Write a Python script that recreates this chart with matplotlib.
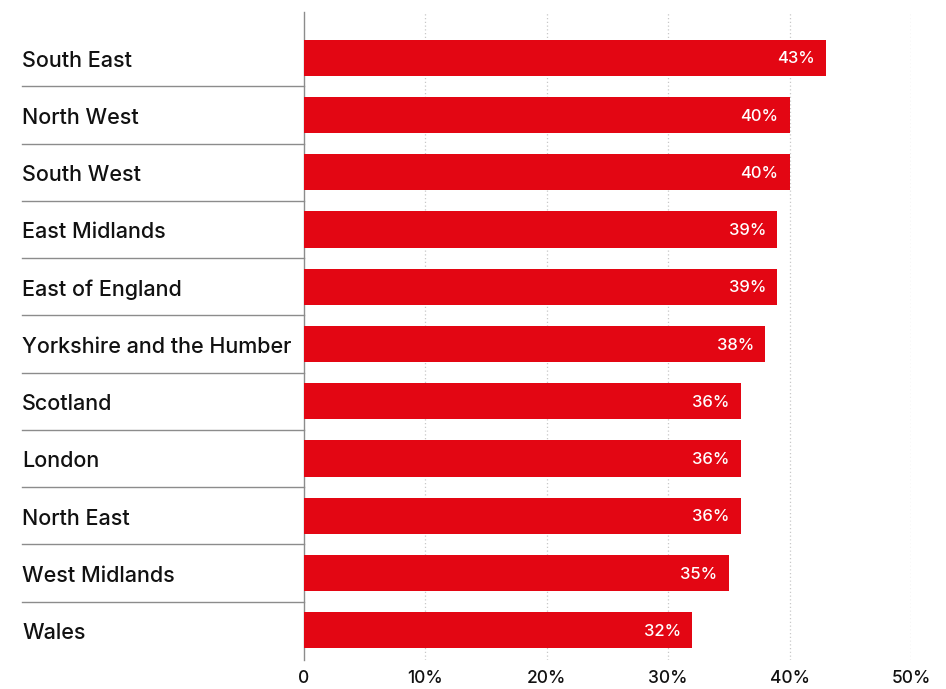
import matplotlib.pyplot as plt
import matplotlib.transforms as mtransforms

regions = ['South East', 'North West', 'South West', 'East Midlands',
           'East of England', 'Yorkshire and the Humber', 'Scotland',
           'London', 'North East', 'West Midlands', 'Wales']
shares = [43, 40, 40, 39, 39, 38, 36, 36, 36, 35, 32]
ticks = [0, 10, 20, 30, 40, 50]
tick_labels = ['0', '10%', '20%', '30%', '40%', '50%']

RED = '#e30613'
GREY = '#8c8c8c'

plt.rcParams['font.family'] = ['Inter', 'DejaVu Sans']

fig = plt.figure(figsize=(9.46, 6.89), dpi=100)
ax = fig.add_axes([304 / 946, 1 - 660 / 689, (911 - 304) / 946, 648 / 689])

pos = list(range(len(regions)))
ax.barh(pos, shares, height=0.63, color=RED, zorder=3)

for y, v in zip(pos, shares):
    ax.text(v - 0.95, y + 0.02, f'{v}%', color='white', fontsize=12,
            fontweight='medium', ha='right', va='center', zorder=4)

ax.set_xlim(0, 50)
ax.set_ylim(len(regions) - 0.48, -0.8)

# dotted vertical gridlines
for t in ticks[1:]:
    ax.axvline(t, color='#c8c8c8', linestyle=(0, (1, 2)), linewidth=0.9, zorder=1)

for side in ['top', 'right', 'bottom']:
    ax.spines[side].set_visible(False)
ax.spines['left'].set_color(GREY)
ax.spines['left'].set_linewidth(1)

ax.set_xticks(ticks)
ax.set_xticklabels(tick_labels, fontsize=12.5, color='#111111', fontweight='medium')
ax.tick_params(axis='x', length=0, pad=7)
ax.set_yticks([])

# region names and separators on the left
trans = mtransforms.blended_transform_factory(ax.transAxes, ax.transData)
x_left = (22 - 304) / (911 - 304)
for y, name in zip(pos, regions):
    ax.text(x_left, y + 0.05, name, transform=trans, fontsize=15.5,
            fontweight='medium', color='#111111', ha='left', va='center')
for y in pos[:-1]:
    ax.plot([x_left, 0], [y + 0.5, y + 0.5], transform=trans, color=GREY,
            linewidth=1, clip_on=False)

fig.savefig('out.png', dpi=100)
